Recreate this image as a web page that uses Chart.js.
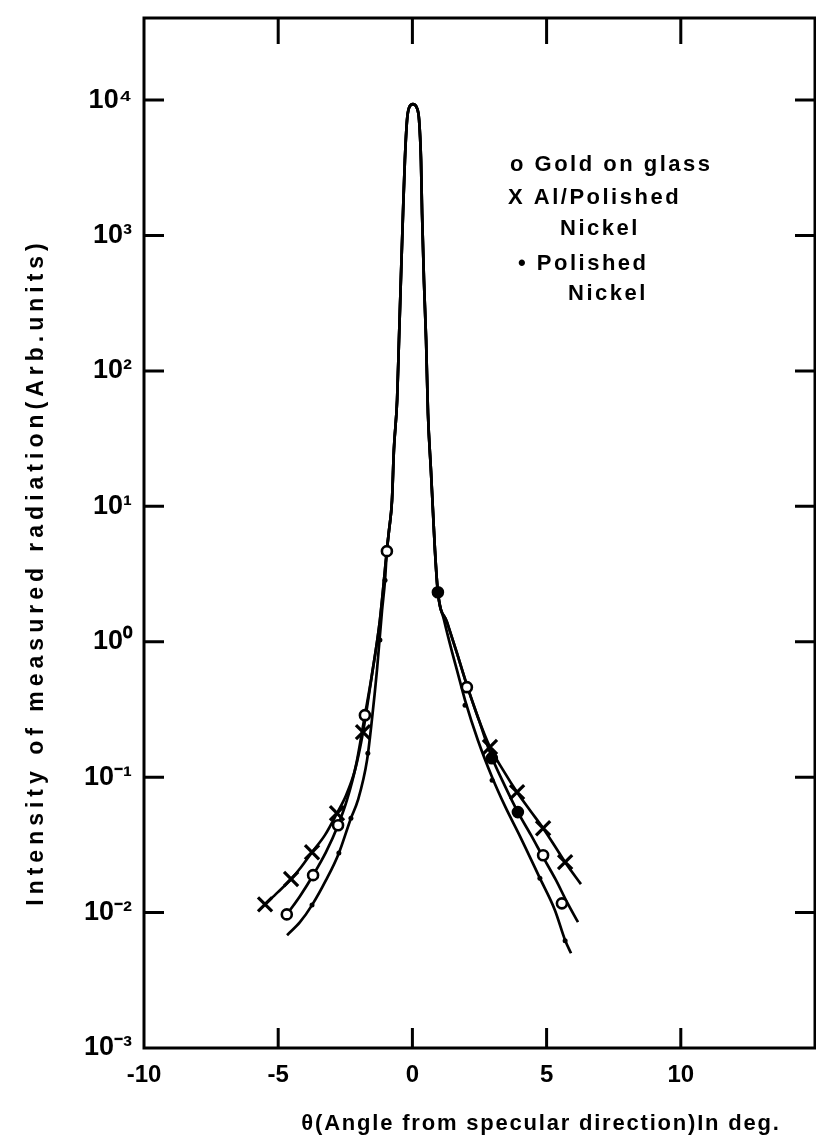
<!DOCTYPE html>
<html><head><meta charset="utf-8">
<script src="https://cdn.jsdelivr.net/npm/chart.js@4.4.0/dist/chart.umd.min.js"></script>
<style>html,body{margin:0;padding:0;background:#fff;}#wrap{width:816px;height:1144px;}</style>
</head><body><div id="wrap"><canvas id="c" width="816" height="1144"></canvas></div>
<script>
// ---- axis ticks ----
const xTickValues = [-10, -5, 0, 5, 10];
const yTickValues = [1e-3, 1e-2, 1e-1, 1, 10, 100, 1000, 10000];
const yTickLabels = ['10⁻³', '10⁻²', '10⁻¹', '10⁰', '10¹', '10²', '10³', '10⁴'];

// ---- shared central peak (angle, intensity) ----
const peakX = [-0.95,-0.87,-0.76,-0.69,-0.57,-0.50,-0.43,-0.35,-0.28,-0.20,-0.13,0.02,0.17,0.25,0.32,0.36,0.43,0.51,0.58,0.69,0.77,0.84,0.95];
const peakY = [4.75,6.67,11.1,26.0,60.8,169,469,1462,3606,7112,8730,9333,8730,7112,3606,1462,469,169,48.8,18.5,8.91,4.75,2.32];

// ---- fitted curve tails ----
const goldLeftX = [-4.67,-4.19,-3.70,-3.22,-2.77,-2.44,-2.10,-1.77,-1.51,-1.21];
const goldLeftY = [0.00973,0.01321,0.01888,0.02793,0.04416,0.0676,0.1227,0.2871,0.5662,1.445];
const goldRightX = [1.29,1.66,2.03,2.48,2.93,3.45,3.93,4.42,4.87,5.35,5.76,6.17];
const goldRightY = [1.396,0.824,0.478,0.2636,0.1452,0.0859,0.0552,0.0373,0.02564,0.01734,0.01194,0.00849];

const alLeftX = [-5.49,-5.01,-4.52,-4.15,-3.74,-3.26,-2.81,-2.47,-2.14,-1.84,-1.51,-1.21];
const alLeftY = [0.01153,0.01416,0.01766,0.02163,0.02793,0.03733,0.0542,0.0736,0.1127,0.2148,0.5662,1.445];
const alRightX = [1.29,1.66,2.03,2.44,2.89,3.38,3.90,4.38,4.87,5.31,5.69,6.28];
const alRightY = [1.396,0.824,0.478,0.2773,0.1667,0.1127,0.0774,0.0570,0.0420,0.0309,0.02355,0.01622];

const nickelLeftX = [-4.67,-4.19,-3.74,-3.22,-2.74,-2.29,-2.03,-1.69,-1.51,-1.32,-1.13,-1.02];
const nickelLeftY = [0.00681,0.00849,0.01135,0.01734,0.02748,0.0498,0.0676,0.1337,0.2636,0.617,1.71,2.85];
const nickelRightX = [1.18,1.44,1.70,1.96,2.44,2.97,3.45,4.01,4.75,5.31,5.69,5.91];
const nickelRightY = [1.445,0.897,0.577,0.371,0.1875,0.100,0.0611,0.0366,0.01795,0.01042,0.00625,0.00501];

// ---- measured points ----
const goldPointsX = [-4.68,-3.70,-2.77,-1.77,-0.95,0.95,2.03,2.96,3.93,4.87,5.57];
const goldPointsY = [0.0097,0.0189,0.0442,0.287,4.67,2.32,0.462,0.138,0.0552,0.0265,0.0117];
const alPointsX = [-5.49,-4.52,-3.74,-2.81,-1.84,2.89,3.90,4.87,5.69];
const alPointsY = [0.0115,0.0177,0.0279,0.0542,0.215,0.167,0.0775,0.042,0.0236];
const nickelPointsX = [-3.74,-2.74,-2.29,-1.66,-1.21,-1.02,1.96,2.97,4.75,5.69];
const nickelPointsY = [0.0114,0.0275,0.0498,0.150,1.03,2.85,0.34,0.095,0.0179,0.0062];

// ---- legend / titles ----
const legendLines = ['o Gold on glass', 'X Al/Polished', 'Nickel', '• Polished', 'Nickel'];
const xTitle = 'θ(Angle from specular direction)In deg.';
const yTitle = 'Intensity of measured radiation(Arb.units)';

const pts = (xs, ys) => xs.map((x, i) => ({x, y: ys[i]}));
const curve = (lx, ly, rx, ry) => pts([...lx, ...peakX, ...rx], [...ly, ...peakY, ...ry]);

const filledGold = [5, 7, 8];
const FONT = 'Liberation Sans';

const lineDs = (data) => ({
  type: 'line', data, borderColor: '#000', borderWidth: 2.7, pointRadius: 0,
  fill: false, cubicInterpolationMode: 'monotone', order: 2
});

const framePlugin = {
  id: 'frame',
  afterDraw(chart) {
    const {ctx, chartArea: a, scales: {x, y}} = chart;
    ctx.save();
    ctx.strokeStyle = '#000';
    ctx.lineWidth = 3;
    ctx.strokeRect(a.left, a.top, a.right - a.left, a.bottom - a.top);
    ctx.beginPath();
    yTickValues.forEach(v => {
      if (v === 1e-3) return;
      const py = y.getPixelForValue(v);
      ctx.moveTo(a.left, py); ctx.lineTo(a.left + 20, py);
      ctx.moveTo(a.right - 20, py); ctx.lineTo(a.right, py);
    });
    xTickValues.forEach(v => {
      if (v === -10) return;
      const px = x.getPixelForValue(v);
      ctx.moveTo(px, a.bottom); ctx.lineTo(px, a.bottom - 20);
      ctx.moveTo(px, a.top); ctx.lineTo(px, a.top + 26);
    });
    ctx.stroke();

    ctx.fillStyle = '#000';
    ctx.font = `bold 22px "${FONT}"`;
    ctx.letterSpacing = '2.5px';
    ctx.textBaseline = 'alphabetic';
    ctx.textAlign = 'left';
    const lx = [510, 508, 560, 518, 568];
    const ly = [171, 204, 235, 270, 300];
    legendLines.forEach((t, i) => ctx.fillText(t, lx[i], ly[i]));

    ctx.textAlign = 'center';
    ctx.letterSpacing = '1.8px';
    ctx.fillText(xTitle, 541, 1130);
    ctx.save();
    ctx.font = `bold 23px "${FONT}"`;
    ctx.letterSpacing = '5px';
    ctx.translate(43, 572);
    ctx.rotate(-Math.PI / 2);
    ctx.fillText(yTitle, 0, 0);
    ctx.restore();
    ctx.restore();
  }
};

new Chart(document.getElementById('c'), {
  data: {
    datasets: [
      lineDs(curve(alLeftX, alLeftY, alRightX, alRightY)),
      lineDs(curve(goldLeftX, goldLeftY, goldRightX, goldRightY)),
      lineDs(curve(nickelLeftX, nickelLeftY, nickelRightX, nickelRightY)),
      {type: 'scatter', data: pts(goldPointsX, goldPointsY), pointStyle: 'circle', pointRadius: 5,
       borderColor: '#000', borderWidth: 2.6,
       backgroundColor: goldPointsX.map((_, i) => filledGold.includes(i) ? '#000' : '#fff'), order: 0},
      {type: 'scatter', data: pts(alPointsX, alPointsY), pointStyle: 'crossRot', pointRadius: 10,
       borderColor: '#000', borderWidth: 3.2, order: 0},
      {type: 'scatter', data: pts(nickelPointsX, nickelPointsY), pointStyle: 'circle', pointRadius: 2.5,
       borderColor: '#000', backgroundColor: '#000', borderWidth: 0, order: 0}
    ]
  },
  options: {
    responsive: false, animation: false, devicePixelRatio: 1,
    layout: {autoPadding: false, padding: {top: 18, right: 1, left: 0, bottom: 0}},
    plugins: {legend: {display: false}, tooltip: {enabled: false}},
    scales: {
      x: {
        type: 'linear', min: -10, max: 15,
        grid: {display: false, drawTicks: false}, border: {display: false},
        afterBuildTicks: (s) => { s.ticks = xTickValues.map(v => ({value: v})); },
        afterFit: (s) => { s.height = 96; s.paddingLeft = 0; s.paddingRight = 0; },
        ticks: {color: '#000', padding: 13, font: {family: FONT, size: 24, weight: 'bold'}, maxRotation: 0, autoSkip: false}
      },
      y: {
        type: 'logarithmic', min: 1e-3, max: 40400,
        grid: {display: false, drawTicks: false}, border: {display: false},
        afterBuildTicks: (s) => { s.ticks = yTickValues.map(v => ({value: v})); },
        afterFit: (s) => { s.width = 144; s.paddingTop = 0; s.paddingBottom = 0; },
        ticks: {color: '#000', padding: 12, font: {family: FONT, size: 27, weight: 'bold'}, autoSkip: false,
          callback: (v, i) => yTickLabels[i]}
      }
    }
  },
  plugins: [framePlugin]
});
</script></body></html>
